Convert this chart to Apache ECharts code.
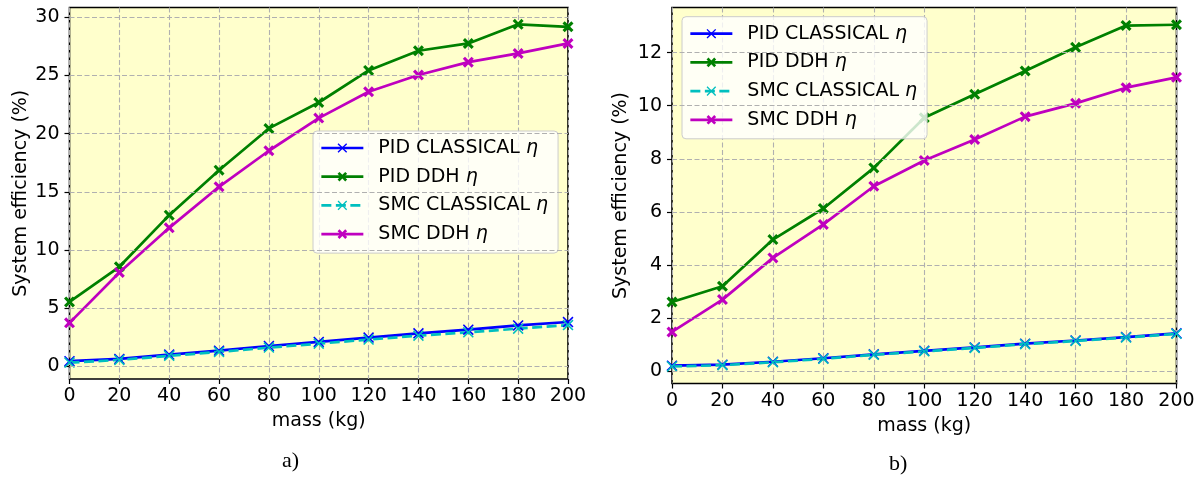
<!DOCTYPE html>
<html>
<head>
<meta charset="utf-8">
<script src="https://cdn.jsdelivr.net/npm/echarts@6/dist/echarts.min.js"></script>
<style>
  html, body { margin: 0; padding: 0; background: #fff; }
  #container { width: 1202px; height: 479px; }
</style>
</head>
<body>
<div id="container"></div>
<script>
// data
var massKg = [0, 20, 40, 60, 80, 100, 120, 140, 160, 180, 200];
var seriesNames = ['PID CLASSICAL', 'PID DDH', 'SMC CLASSICAL', 'SMC DDH'];

// panel a)
var pidClassicalA = [0.43, 0.63, 1.0, 1.34, 1.74, 2.09, 2.46, 2.83, 3.14, 3.51, 3.8];
var pidDdhA       = [5.53, 8.55, 12.99, 16.86, 20.45, 22.68, 25.44, 27.13, 27.76, 29.4, 29.19];
var smcClassicalA = [0.31, 0.54, 0.89, 1.23, 1.6, 1.94, 2.29, 2.63, 2.91, 3.23, 3.54];
var smcDdhA       = [3.73, 8.06, 11.9, 15.43, 18.53, 21.34, 23.6, 25.04, 26.15, 26.9, 27.76];
var yTicksA = [0, 5, 10, 15, 20, 25, 30];

// panel b)
var pidClassicalB = [0.21, 0.25, 0.36, 0.49, 0.64, 0.77, 0.9, 1.04, 1.16, 1.29, 1.43];
var pidDdhB       = [2.61, 3.2, 4.96, 6.13, 7.66, 9.55, 10.43, 11.31, 12.2, 13.02, 13.05];
var smcClassicalB = [0.18, 0.23, 0.34, 0.47, 0.62, 0.75, 0.88, 1.02, 1.14, 1.27, 1.41];
var smcDdhB       = [1.48, 2.7, 4.27, 5.53, 6.97, 7.94, 8.73, 9.59, 10.09, 10.68, 11.07];
var yTicksB = [0, 2, 4, 6, 8, 10, 12];

var FONT = 'DejaVu Sans';
var thinX = 'path://M1,0 L5,4 L9,0 L10,1 L6,5 L10,9 L9,10 L5,6 L1,10 L0,9 L4,5 L0,1 Z';
var boldX = 'path://M2,0 L5,3 L8,0 L10,2 L7,5 L10,8 L8,10 L5,7 L2,10 L0,8 L3,5 L0,2 Z';

function pairs(vals) {
    return massKg.map(function (m, i) { return [m, vals[i]]; });
}

function xAxisFor(idx, gap) {
    return {
        type: 'value', gridIndex: idx, min: 0, max: 200, interval: 20,
        axisLine: {show: false, onZero: false},
        axisTick: {show: true, length: 5, lineStyle: {color: '#000', width: 1.2}},
        axisLabel: {color: '#000', fontFamily: FONT, fontSize: 19, margin: 8},
        splitLine: {show: true, lineStyle: {type: [5, 2.5], color: '#b0b0b0', width: 1.1}},
        name: 'mass (kg)', nameLocation: 'middle', nameGap: gap,
        nameTextStyle: {color: '#000', fontFamily: FONT, fontSize: 19}
    };
}

function yAxisFor(idx, min, max, ticks, gap) {
    return {
        type: 'value', gridIndex: idx, min: min, max: max,
        axisLine: {show: false, onZero: false},
        axisTick: {show: true, length: 5, customValues: ticks, lineStyle: {color: '#000', width: 1.2}},
        axisLabel: {color: '#000', fontFamily: FONT, fontSize: 19, margin: 10, customValues: ticks},
        splitLine: {show: false},
        name: 'System efficiency (%)', nameLocation: 'middle', nameGap: gap,
        nameTextStyle: {color: '#000', fontFamily: FONT, fontSize: 19}
    };
}

function gridLines(idx, ticks) {
    // horizontal dashed grid at the tick values
    return {
        type: 'line', xAxisIndex: idx, yAxisIndex: idx, data: [], z: 1, silent: true,
        markLine: {
            silent: true, symbol: ['none', 'none'], label: {show: false},
            lineStyle: {type: [5, 2.5], color: '#b0b0b0', width: 1.1},
            emphasis: {disabled: true},
            data: ticks.map(function (v) { return {yAxis: v}; })
        }
    };
}

function lineSeries(idx, name, vals, color, symbol, dashed) {
    return {
        name: name, type: 'line', xAxisIndex: idx, yAxisIndex: idx,
        data: pairs(vals), symbol: symbol, symbolSize: 11, showSymbol: true,
        itemStyle: {color: color, borderWidth: 0},
        lineStyle: {color: color, width: 2.7, type: dashed ? [10, 4.5] : 'solid'},
        emphasis: {disabled: true}
    };
}

function legendFor(left, top) {
    return {
        orient: 'vertical', left: left, top: top, padding: [7, 10, 9, 7],
        itemWidth: 42, itemHeight: 12, itemGap: 8.7, selectedMode: false,
        backgroundColor: 'rgba(255,255,255,0.8)', borderColor: '#cccccc',
        borderWidth: 1, borderRadius: 4, data: seriesNames,
        lineStyle: {width: 2.7},
        formatter: function (name) { return '{n|' + name + '} {i|η}'; },
        textStyle: {
            color: '#000', fontFamily: FONT, fontSize: 19, lineHeight: 20,
            rich: {
                n: {color: '#000', fontFamily: FONT, fontSize: 19, lineHeight: 20, padding: [0, 0, 0, 10]},
                i: {color: '#000', fontFamily: FONT, fontSize: 19, lineHeight: 20, fontStyle: 'italic'}
            }
        }
    };
}

var dom = document.getElementById('container');
var myChart = echarts.init(dom, null, {renderer: 'canvas'});
var option = {
    animation: false,
    backgroundColor: '#ffffff',
    grid: [
        {left: 69.5, top: 7.5, width: 498.5, height: 371.5, show: true,
         backgroundColor: '#ffffcc', borderColor: '#000', borderWidth: 1.6},
        {left: 672, top: 7.5, width: 504.5, height: 376, show: true,
         backgroundColor: '#ffffcc', borderColor: '#000', borderWidth: 1.6}
    ],
    xAxis: [xAxisFor(0, 33), xAxisFor(1, 33)],
    yAxis: [yAxisFor(0, -1.1, 30.85, yTicksA, 39), yAxisFor(1, -0.46, 13.7, yTicksB, 41)],
    legend: [legendFor(313, 131), legendFor(682, 16.7)],
    graphic: [
        {type: 'text', left: 282, top: 450, style: {text: 'a)', fill: '#000', font: '22px "Liberation Serif"'}},
        {type: 'text', left: 889, top: 453, style: {text: 'b)', fill: '#000', font: '22px "Liberation Serif"'}}
    ],
    series: [
        gridLines(0, yTicksA),
        lineSeries(0, 'PID CLASSICAL', pidClassicalA, '#0000ff', thinX, false),
        lineSeries(0, 'PID DDH', pidDdhA, '#008000', boldX, false),
        lineSeries(0, 'SMC CLASSICAL', smcClassicalA, '#00bfbf', thinX, true),
        lineSeries(0, 'SMC DDH', smcDdhA, '#bf00bf', boldX, false),
        gridLines(1, yTicksB),
        lineSeries(1, 'PID CLASSICAL', pidClassicalB, '#0000ff', thinX, false),
        lineSeries(1, 'PID DDH', pidDdhB, '#008000', boldX, false),
        lineSeries(1, 'SMC CLASSICAL', smcClassicalB, '#00bfbf', thinX, true),
        lineSeries(1, 'SMC DDH', smcDdhB, '#bf00bf', boldX, false)
    ]
};
myChart.setOption(option);
</script>
</body>
</html>
